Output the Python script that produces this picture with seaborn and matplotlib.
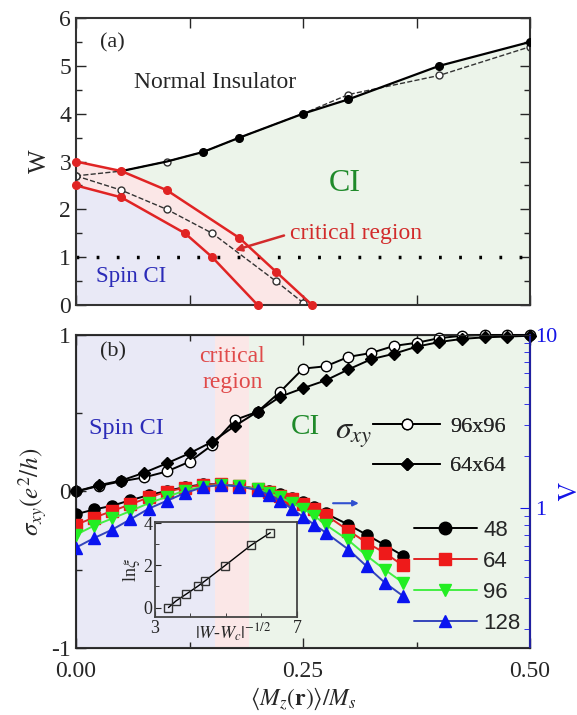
import matplotlib
matplotlib.use("Agg")
import matplotlib.pyplot as plt
import seaborn as sns
import numpy as np
from matplotlib.lines import Line2D
from matplotlib.ticker import MultipleLocator, FixedLocator, NullFormatter

sns.set_style("ticks")
plt.rcParams['font.family'] = ['Liberation Serif', 'DejaVu Serif']
plt.rcParams['mathtext.fontset'] = 'stix'
plt.rcParams['axes.unicode_minus'] = False

# ---------------- datos panel (a) ----------------
x_rojo_sup = [0.0, 0.05, 0.10, 0.18, 0.22, 0.26]
w_rojo_sup = [3.0, 2.8, 2.4, 1.4, 0.7, 0.0]
x_rojo_inf = [0.0, 0.05, 0.12, 0.15, 0.20]
w_rojo_inf = [2.5, 2.25, 1.5, 1.0, 0.0]
x_negro = [0.05, 0.10, 0.14, 0.18, 0.25, 0.30, 0.40, 0.50]
w_negro = [2.8, 3.0, 3.2, 3.5, 4.0, 4.3, 5.0, 5.5]
x_disc_sup = [0.0, 0.05, 0.10, 0.14, 0.18, 0.25, 0.30, 0.40, 0.50]
w_disc_sup = [2.7, 2.8, 3.0, 3.2, 3.5, 4.0, 4.4, 4.8, 5.4]
x_disc_inf = [0.0, 0.05, 0.10, 0.15, 0.22, 0.25]
w_disc_inf = [2.7, 2.4, 2.0, 1.5, 0.5, 0.05]

# ---------------- datos panel (b) ----------------
x_sigma = [0.0, 0.025, 0.05, 0.075, 0.10, 0.125, 0.15, 0.175, 0.20, 0.225, 0.25,
           0.275, 0.30, 0.325, 0.35, 0.375, 0.40, 0.425, 0.45, 0.475, 0.50]
sigma_64 = [0.0, 0.04, 0.07, 0.12, 0.18, 0.244, 0.318, 0.419, 0.51, 0.606, 0.66,
            0.71, 0.78, 0.845, 0.88, 0.925, 0.955, 0.975, 0.985, 0.99, 0.995]
sigma_96 = [0.0, 0.035, 0.065, 0.09, 0.128, 0.19, 0.297, 0.457, 0.51, 0.638, 0.785,
            0.80, 0.86, 0.885, 0.93, 0.95, 0.98, 0.995, 1.0, 1.0, 1.0]

x_lam = [0.0, 0.02, 0.04, 0.06, 0.08, 0.10, 0.12, 0.14, 0.16, 0.18, 0.20,
         0.2125, 0.225, 0.2375, 0.25, 0.2625, 0.275, 0.30, 0.32, 0.34, 0.36]
lam_48 = [0.92, 0.98, 1.03, 1.11, 1.185, 1.255, 1.32, 1.37, 1.37, 1.34, 1.29,
          1.25, 1.20, 1.14, 1.08, 1.01, 0.93, 0.80, 0.70, 0.61, 0.53]
lam_64 = [0.80, 0.88, 0.96, 1.05, 1.15, 1.24, 1.31, 1.36, 1.37, 1.34, 1.29,
          1.24, 1.18, 1.12, 1.05, 0.98, 0.91, 0.74, 0.63, 0.55, 0.465]
lam_96 = [0.70, 0.79, 0.87, 0.96, 1.065, 1.16, 1.26, 1.33, 1.36, 1.34, 1.28,
          1.22, 1.15, 1.07, 0.99, 0.90, 0.80, 0.65, 0.53, 0.44, 0.37]
lam_128 = [0.59, 0.67, 0.75, 0.86, 0.99, 1.10, 1.22, 1.32, 1.36, 1.33, 1.27,
           1.19, 1.10, 0.99, 0.89, 0.80, 0.72, 0.575, 0.46, 0.37, 0.31]

# inset
x_ins = [3.38, 3.59, 3.875, 4.2, 4.41, 4.96, 5.7, 6.25]
y_ins = [0.0, 0.31, 0.63, 1.0, 1.26, 1.97, 2.94, 3.54]

# colores
c_spin = "#e9e9f6"
c_crit = "#fbe7e7"
c_ci = "#ecf4ea"
rojo = "#e02424"
azul_txt = "#2b2bb8"
verde_txt = "#1f8a2a"

fig = plt.figure(figsize=(5.77, 7.15), dpi=100)
ax_a = fig.add_axes([0.1317, 0.5734, 0.787, 0.4014])
ax_b = fig.add_axes([0.1317, 0.0937, 0.787, 0.4378])

# === Panel (a) ===
xx = np.linspace(0, 0.5, 501)
sup_r = np.interp(xx, x_rojo_sup, w_rojo_sup)
inf_r = np.interp(xx, x_rojo_inf, w_rojo_inf)
neg = np.interp(xx, x_negro, w_negro)
ax_a.fill_between(xx, 0, inf_r, color=c_spin, lw=0, zorder=0)
ax_a.fill_between(xx, inf_r, sup_r, color=c_crit, lw=0, zorder=0)
m_ci = xx >= 0.05
ax_a.fill_between(xx[m_ci], sup_r[m_ci], neg[m_ci], color=c_ci, lw=0, zorder=0)

ax_a.axhline(1, color="black", ls=(0, (0.8, 5)), lw=2.5, zorder=1)
ax_a.plot(x_disc_sup, w_disc_sup, color="#333333", ls="--", lw=1, marker="o", ms=5,
          mfc="white", mec="#333333", markevery=[0, 2, 6, 7, 8], zorder=2)
ax_a.plot(x_disc_inf, w_disc_inf, color="#333333", ls="--", lw=1, marker="o", ms=5,
          mfc="white", mec="#333333", zorder=2)
ax_a.plot(x_negro, w_negro, color="black", lw=1.6, marker="o", ms=5.5,
          markevery=list(range(2, 8)), zorder=3)
ax_a.plot(x_rojo_sup, w_rojo_sup, color=rojo, lw=1.8, marker="o", ms=5.5, zorder=4, clip_on=False)
ax_a.plot(x_rojo_inf, w_rojo_inf, color=rojo, lw=1.8, marker="o", ms=5.5, zorder=4, clip_on=False)

ax_a.set_xlim(0, 0.5)
ax_a.set_ylim(0, 6)
ax_a.xaxis.set_major_locator(MultipleLocator(0.125))
ax_a.xaxis.set_major_formatter(NullFormatter())
ax_a.yaxis.set_major_locator(MultipleLocator(1))
ax_a.yaxis.set_minor_locator(MultipleLocator(0.5))
ax_a.tick_params(which="both", direction="in", top=True, right=True, labelsize=17)
ax_a.tick_params(which="major", length=7, width=1)
ax_a.tick_params(which="minor", length=4, width=1)
ax_a.set_ylabel("W", fontsize=18, labelpad=6)

ax_a.text(0.026, 5.49, "(a)", fontsize=16, va="center")
ax_a.text(0.153, 4.66, "Normal Insulator", fontsize=17, ha="center", va="center")
ax_a.text(0.296, 2.54, "CI", fontsize=23, color=verde_txt, ha="center", va="center")
ax_a.text(0.061, 0.59, "Spin CI", fontsize=16.5, color=azul_txt, ha="center", va="center")
ax_a.text(0.236, 1.5, "critical region", fontsize=17, color="#d22b2b", ha="left", va="center")
ax_a.annotate("", xy=(0.172, 1.13), xytext=(0.232, 1.47),
              arrowprops=dict(arrowstyle="-|>", color="#d22b2b", lw=1.8, mutation_scale=10))

# === Panel (b) ===
ax_b.axvspan(0, 0.153, color=c_spin, lw=0, zorder=0)
ax_b.axvspan(0.153, 0.19, color=c_crit, lw=0, zorder=0)
ax_b.axvspan(0.19, 0.5, color=c_ci, lw=0, zorder=0)

ax_b.plot(x_sigma, sigma_96, color="black", lw=1.4, marker="o", ms=7.5, mfc="white",
          mec="black", mew=1, label="96x96", zorder=3, clip_on=False)
ax_b.plot(x_sigma, sigma_64, color="black", lw=1.4, marker="D", ms=6.5, label="64x64",
          zorder=3, clip_on=False)
ax_b.set_xlim(0, 0.5)
ax_b.set_ylim(-1, 1)
ax_b.xaxis.set_major_locator(MultipleLocator(0.25))
ax_b.xaxis.set_minor_locator(MultipleLocator(0.125))
ax_b.xaxis.set_major_formatter(matplotlib.ticker.FormatStrFormatter("%.2f"))
ax_b.yaxis.set_major_locator(MultipleLocator(1))
ax_b.yaxis.set_minor_locator(MultipleLocator(0.5))
ax_b.tick_params(which="both", direction="in", top=True, right=False, labelsize=17)
ax_b.tick_params(axis="x", pad=9)
ax_b.tick_params(which="major", length=7, width=1)
ax_b.tick_params(which="minor", length=4, width=1)
ax_b.set_ylabel(r"$\sigma_{xy}(e^2/h)$", fontsize=18, labelpad=2)
ax_b.set_xlabel(r"$\langle M_z(\mathbf{r})\rangle/M_s$", fontsize=17, labelpad=3)

leg1 = ax_b.legend(loc="upper left", bbox_to_anchor=(0.655, 0.74), frameon=False,
                   fontsize=16, handlelength=3.0, handletextpad=0.45, labelspacing=0.85,
                   borderpad=0, borderaxespad=0)
ax_b.add_artist(leg1)

ax_b.text(0.026, 0.893, "(b)", fontsize=16, va="center")
ax_b.text(0.172, 0.78, "critical\nregion", fontsize=17, color="#e04a4a", ha="center",
          va="center", linespacing=1.3)
ax_b.text(0.055, 0.40, "Spin CI", fontsize=17.5, color=azul_txt, ha="center", va="center")
ax_b.text(0.253, 0.41, "CI", fontsize=21, color=verde_txt, ha="center", va="center")
ax_b.text(0.306, 0.36, r"$\sigma_{xy}$", fontsize=23, ha="center", va="center")
ax_b.annotate("", xy=(0.3145, -0.075), xytext=(0.28, -0.075),
              arrowprops=dict(arrowstyle="-|>", color="#3050d0", lw=1.5, mutation_scale=8))

# eje derecho Lambda (log)
ax_r = ax_b.twinx()
azul = "#1414e6"
series = [(lam_48, "black", "black", "o", "48"),
          (lam_64, rojo, "#ee1a1a", "s", "64"),
          (lam_96, "#44ee44", "#22ee22", "v", "96"),
          (lam_128, "#3344bb", "#0a14f0", "^", "128")]
handles = []
for vals, lc, mc, mk, lab in series:
    ax_r.plot(x_lam, vals, color=lc, lw=1.4, marker=mk, ms=8, mfc=mc, mec=mc, zorder=3)
    handles.append(Line2D([], [], color=lc, lw=1.4, marker=mk, ms=9, mfc=mc, mec=mc, label=lab))
ax_r.set_yscale("log")
ax_r.set_ylim(0.155, 10)
ax_r.yaxis.set_major_locator(FixedLocator([1, 10]))
ax_r.yaxis.set_major_formatter(matplotlib.ticker.FixedFormatter(["1", "10"]))
ax_r.tick_params(which="both", direction="in", colors=azul, labelsize=16)
ax_r.tick_params(which="major", length=7)
ax_r.tick_params(which="minor", length=4)
ax_r.spines["right"].set_color("#2020a0")
ax_r.spines["right"].set_linewidth(1.5)
ax_r.set_ylabel(r"$\Lambda$", fontsize=19, color=azul, rotation=270, labelpad=12)
leg2 = ax_r.legend(handles=handles, loc="upper left", bbox_to_anchor=(0.745, 0.41),
                   frameon=False, prop={"family": "Liberation Sans", "size": 16},
                   handlelength=2.8, handletextpad=0.3, labelspacing=0.45,
                   borderpad=0, borderaxespad=0)

for ax in (ax_a, ax_b):
    for s in ax.spines.values():
        s.set_linewidth(1.5)
        s.set_color("#333333")

# === Inset ===
ax_in = fig.add_axes([0.2686, 0.137, 0.246, 0.133])
ax_in.patch.set_alpha(0)
ax_in.plot(x_ins, y_ins, color="black", lw=1, marker="s", ms=6, mfc="none", mec="#333333")
ax_in.set_xlim(3, 7)
ax_in.set_ylim(-0.45, 4.05)
ax_in.xaxis.set_major_locator(FixedLocator([3, 7]))
ax_in.xaxis.set_minor_locator(FixedLocator([4, 5, 6]))
ax_in.yaxis.set_major_locator(FixedLocator([0, 2, 4]))
ax_in.yaxis.set_minor_locator(FixedLocator([1, 3]))
ax_in.tick_params(which="both", direction="in", labelsize=13, pad=2)
ax_in.tick_params(which="major", length=4)
ax_in.tick_params(which="minor", length=3)
ax_in.set_ylabel(r"ln$\xi$", fontsize=13, labelpad=1)
ax_in.text(0.55, -0.05, r"$|W$-$W_c|^{-1/2}$", transform=ax_in.transAxes, fontsize=13,
           ha="center", va="top")
for s in ax_in.spines.values():
    s.set_linewidth(1.3)
    s.set_color("#444444")

fig.savefig("out.png", dpi=100)
